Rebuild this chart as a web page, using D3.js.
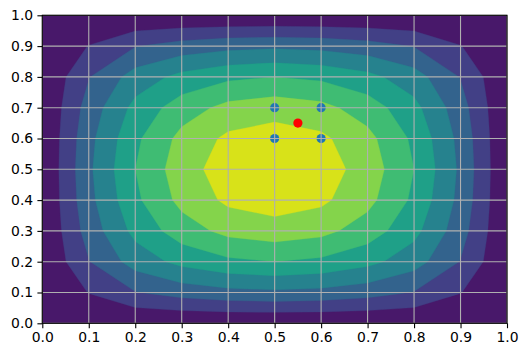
<!DOCTYPE html>
<html>
<head>
<meta charset="utf-8">
<script src="https://cdn.jsdelivr.net/npm/d3@7"></script>
<style>
  html, body { margin: 0; padding: 0; background: #ffffff; }
  svg { display: block; }
  text { font-family: "DejaVu Sans", sans-serif; }
</style>
</head>
<body>
<svg id="chart" width="527" height="357"></svg>
<script>
// ---------- data ----------
const xGrid = [0, 0.1, 0.2, 0.3, 0.4, 0.5, 0.6, 0.7, 0.8, 0.9, 1.0];
const yGrid = [0, 0.1, 0.2, 0.3, 0.4, 0.5, 0.6, 0.7, 0.8, 0.9, 1.0];
// z values, one row per y (bottom row first)
const zRows = [
  [0, 0,     0,     0,     0,     0,     0,     0,     0,     0,     0],
  [0, 0.132, 0.250, 0.310, 0.346, 0.360, 0.346, 0.310, 0.250, 0.132, 0],
  [0, 0.250, 0.440, 0.550, 0.614, 0.640, 0.614, 0.550, 0.440, 0.250, 0],
  [0, 0.310, 0.550, 0.706, 0.806, 0.840, 0.806, 0.706, 0.550, 0.310, 0],
  [0, 0.346, 0.614, 0.806, 0.922, 0.960, 0.922, 0.806, 0.614, 0.346, 0],
  [0, 0.360, 0.640, 0.840, 0.960, 1.000, 0.960, 0.840, 0.640, 0.360, 0],
  [0, 0.346, 0.614, 0.806, 0.922, 0.960, 0.922, 0.806, 0.614, 0.346, 0],
  [0, 0.310, 0.550, 0.706, 0.806, 0.840, 0.806, 0.706, 0.550, 0.310, 0],
  [0, 0.250, 0.440, 0.550, 0.614, 0.640, 0.614, 0.550, 0.440, 0.250, 0],
  [0, 0.132, 0.250, 0.310, 0.346, 0.360, 0.346, 0.310, 0.250, 0.132, 0],
  [0, 0,     0,     0,     0,     0,     0,     0,     0,     0,     0]
];
const levels = [0, 0.128, 0.256, 0.384, 0.512, 0.640, 0.768, 0.896, 1.024];
const gridPointsX = [0.5, 0.5, 0.6, 0.6];
const gridPointsY = [0.6, 0.7, 0.6, 0.7];
const queryX = [0.55];
const queryY = [0.65];
const tickValues = [0, 0.1, 0.2, 0.3, 0.4, 0.5, 0.6, 0.7, 0.8, 0.9, 1.0];
const tickLabels = ["0.0", "0.1", "0.2", "0.3", "0.4", "0.5", "0.6", "0.7", "0.8", "0.9", "1.0"];

// ---------- layout ----------
const margin = { left: 42.3, top: 15.3, right: 527 - 507, bottom: 357 - 323.3 };
const W = 527, H = 357;
const svg = d3.select("#chart");
const x = d3.scaleLinear().domain([0, 1]).range([margin.left, W - margin.right]);
const y = d3.scaleLinear().domain([0, 1]).range([H - margin.bottom, margin.top]);

svg.append("defs").append("clipPath").attr("id", "plotclip")
  .append("rect")
  .attr("x", x(0)).attr("y", y(1))
  .attr("width", x(1) - x(0)).attr("height", y(0) - y(1));

const nBands = levels.length - 1;
const bandColor = k => d3.interpolateViridis((k + 0.5) / nBands);

const plot = svg.append("g").attr("clip-path", "url(#plotclip)");

// lowest band fills the whole domain
plot.append("rect")
  .attr("x", x(xGrid[0])).attr("y", y(yGrid[yGrid.length - 1]))
  .attr("width", x(xGrid[xGrid.length - 1]) - x(xGrid[0]))
  .attr("height", y(yGrid[0]) - y(yGrid[yGrid.length - 1]))
  .attr("fill", bandColor(0));

const nx = xGrid.length, ny = yGrid.length;
const flat = [];
for (let j = 0; j < ny; j++) for (let i = 0; i < nx; i++) flat.push(zRows[j][i]);

const dxStep = xGrid[1] - xGrid[0];
const dyStep = yGrid[1] - yGrid[0];
const proj = d3.geoTransform({
  point: function(cx, cy) {
    this.stream.point(x(xGrid[0] + (cx - 0.5) * dxStep), y(yGrid[0] + (cy - 0.5) * dyStep));
  }
});
const path = d3.geoPath(proj);

const thresholds = levels.slice(1, nBands);
const contours = d3.contours().size([nx, ny]).thresholds(thresholds)(flat);
contours.forEach((c, idx) => {
  plot.append("path")
    .attr("d", path(c))
    .attr("fill", bandColor(idx + 1))
    .attr("stroke", bandColor(idx + 1))
    .attr("stroke-width", 0.3);
});

// scatter points
plot.selectAll("circle.grid")
  .data(gridPointsX.map((v, i) => [v, gridPointsY[i]]))
  .enter().append("circle")
  .attr("class", "grid")
  .attr("cx", d => x(d[0])).attr("cy", d => y(d[1]))
  .attr("r", 4.6).attr("fill", "#1f77b4");
plot.selectAll("circle.query")
  .data(queryX.map((v, i) => [v, queryY[i]]))
  .enter().append("circle")
  .attr("class", "query")
  .attr("cx", d => x(d[0])).attr("cy", d => y(d[1]))
  .attr("r", 4.6).attr("fill", "#ff0000");

// grid lines (drawn above the scatter like matplotlib)
const gridG = svg.append("g");
tickValues.forEach(v => {
  gridG.append("line").attr("x1", x(v)).attr("x2", x(v)).attr("y1", y(0)).attr("y2", y(1))
    .attr("stroke", "#b0b0b0").attr("stroke-width", 1.1);
  gridG.append("line").attr("y1", y(v)).attr("y2", y(v)).attr("x1", x(0)).attr("x2", x(1))
    .attr("stroke", "#b0b0b0").attr("stroke-width", 1.1);
});

// axes
const xAxis = d3.axisBottom(x).tickValues(tickValues)
  .tickFormat((d, i) => tickLabels[i]).tickSize(4.9).tickPadding(4.2);
const yAxis = d3.axisLeft(y).tickValues(tickValues)
  .tickFormat((d, i) => tickLabels[i]).tickSize(4.9).tickPadding(4.2);

const gx = svg.append("g").attr("transform", `translate(0,${y(0)})`).call(xAxis);
const gy = svg.append("g").attr("transform", `translate(${x(0)},0)`).call(yAxis);
[gx, gy].forEach(g => {
  g.select(".domain").remove();
  g.selectAll(".tick line").attr("stroke", "#000").attr("stroke-width", 1.1);
  g.selectAll(".tick text").attr("fill", "#000").style("font-size", "13.9px")
    .style("font-family", "'DejaVu Sans', sans-serif");
});

// spines
svg.append("rect")
  .attr("x", x(0)).attr("y", y(1))
  .attr("width", x(1) - x(0)).attr("height", y(0) - y(1))
  .attr("fill", "none").attr("stroke", "#000").attr("stroke-width", 1.1);
</script>
</body>
</html>
